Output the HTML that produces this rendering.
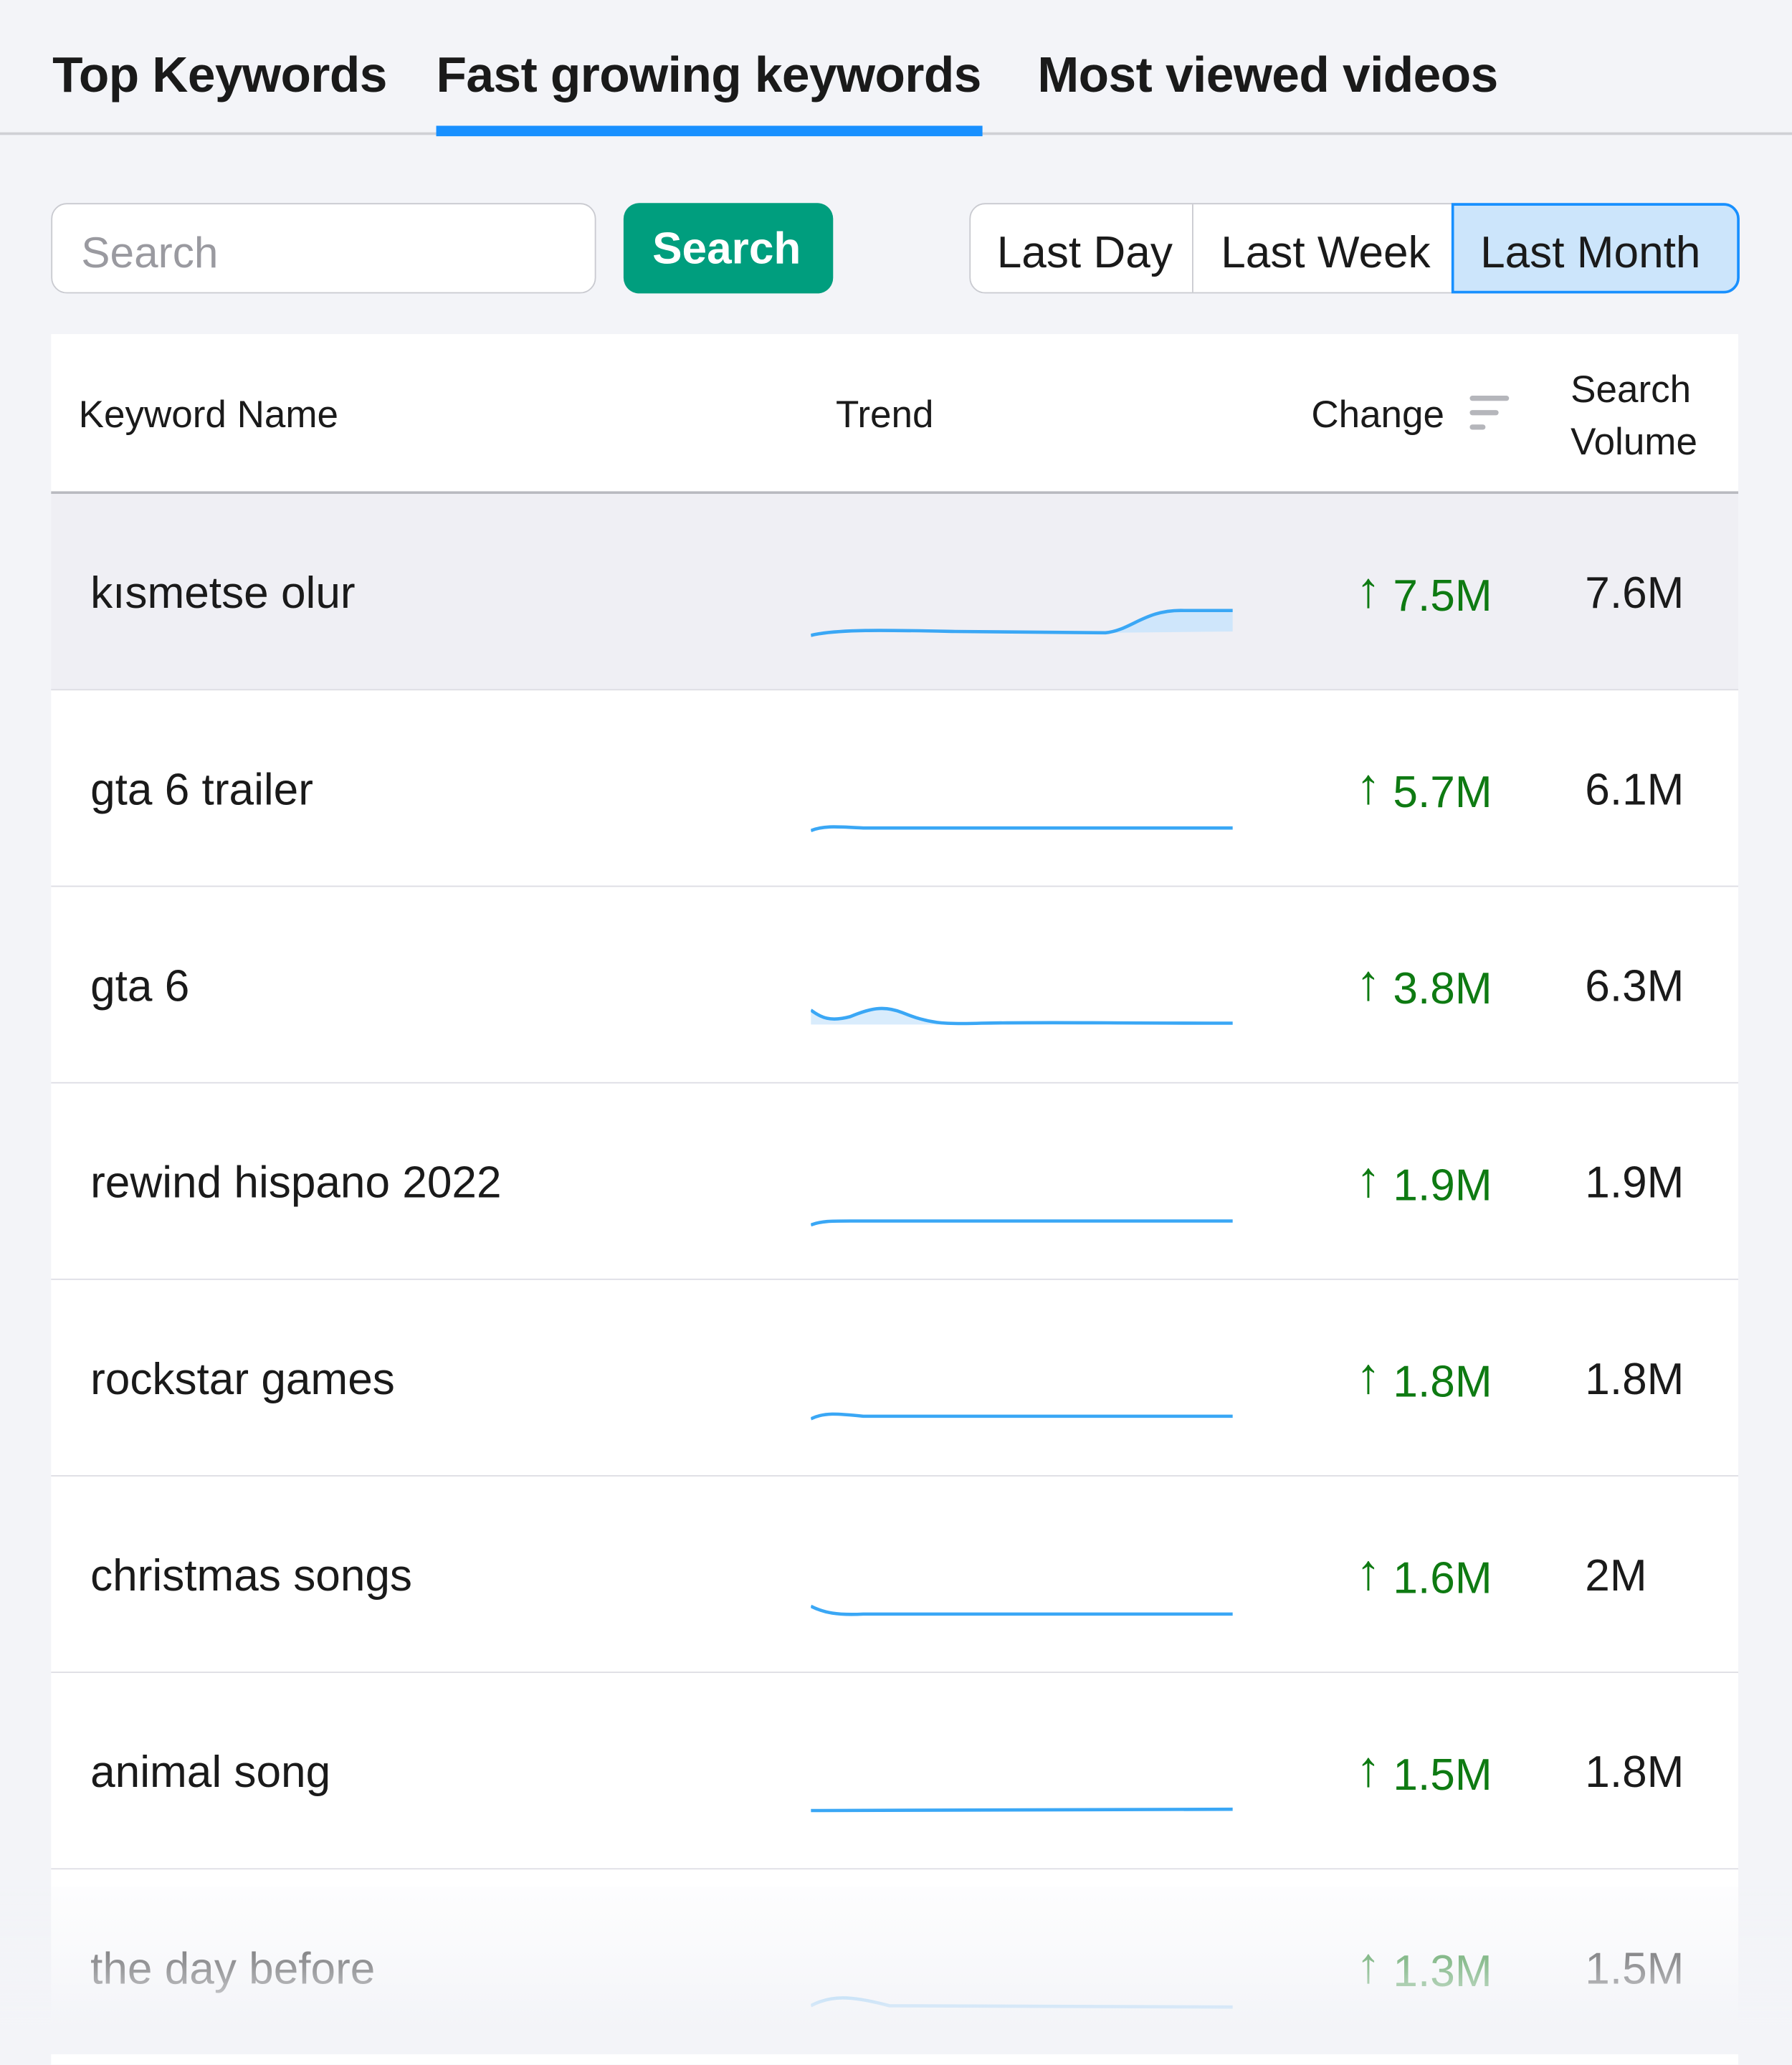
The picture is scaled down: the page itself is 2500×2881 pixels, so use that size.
<!DOCTYPE html>
<html><head><meta charset="utf-8"><style>
html,body{margin:0;padding:0;width:2500px;height:2866px;overflow:hidden;background:#f3f4f8;}
#w{position:absolute;left:0;top:0;width:1368px;height:1568px;transform:scale(1.82749,1.8278);transform-origin:0 0;font-family:"Liberation Sans","DejaVu Sans",sans-serif;color:#1a1a1a;}
.a{position:absolute;white-space:nowrap;}
.tab{font-size:38px;font-weight:bold;top:37px;letter-spacing:-0.3px}
.row{position:absolute;left:39px;width:1288px;height:149px;border-bottom:1px solid #dcdce3;background:#fff;}
.kw{position:absolute;left:30px;top:57px;font-size:34px;}
.ch{position:absolute;left:996px;top:56px;font-size:34px;color:#0e7a12;}
.ch b{font-weight:bold;font-size:38px;position:relative;top:-3px;}
.vol{position:absolute;left:1171px;top:57px;font-size:34px;}
svg{position:absolute;left:580px;top:0;}
</style></head><body><div id="w">
<div class="a tab" style="left:40px">Top Keywords</div>
<div class="a tab" style="left:333px">Fast growing keywords</div>
<div class="a tab" style="left:792px">Most viewed videos</div>
<div class="a" style="left:0;top:101px;width:1368px;height:2px;background:#cfd0d5"></div>
<div class="a" style="left:333px;top:96px;width:417px;height:8px;background:#1890ff"></div>

<div class="a" style="left:39px;top:155px;width:414px;height:67px;border:1px solid #c9cad0;border-radius:12px;background:#fff"></div>
<div class="a" style="left:62px;top:174px;font-size:33px;color:#9a9aa0">Search</div>
<div class="a" style="left:476px;top:155px;width:160px;height:69px;border-radius:12px;background:#009e7e"></div>
<div class="a" style="left:498px;top:171px;font-size:34px;color:#fff;font-weight:bold">Search</div>

<div class="a" style="left:740px;top:155px;width:586px;height:67px;border:1px solid #c9cad0;border-radius:12px;background:#fff"></div>
<div class="a" style="left:910px;top:156px;width:1px;height:67px;background:#c9cad0"></div>
<div class="a" style="left:1108px;top:155px;width:216px;height:65px;border:2px solid #1890ff;border-radius:0 12px 12px 0;background:#cce5fb"></div>
<div class="a" style="left:761px;top:174px;font-size:34px">Last Day</div>
<div class="a" style="left:932px;top:174px;font-size:34px">Last Week</div>
<div class="a" style="left:1130px;top:174px;font-size:34px">Last Month</div>

<div class="a" style="left:39px;top:255px;width:1288px;height:120px;background:#fff;border-bottom:2px solid #b9bac0"></div>
<div class="a" style="left:60px;top:301px;font-size:29px">Keyword Name</div>
<div class="a" style="left:638px;top:301px;font-size:29px">Trend</div>
<div class="a" style="left:1001px;top:301px;font-size:29px">Change</div>
<div class="a" style="left:1122px;top:302px;width:30px;height:4px;background:#b5b6bb;border-radius:2px"></div>
<div class="a" style="left:1122px;top:313px;width:22px;height:4px;background:#b5b6bb;border-radius:2px"></div>
<div class="a" style="left:1122px;top:324px;width:12px;height:4px;background:#b5b6bb;border-radius:2px"></div>
<div class="a" style="left:1199px;top:278px;font-size:29px;line-height:40px;white-space:normal">Search<br>Volume</div>

<div class="row" style="top:377px;background:#efeff4"><div class="kw">kısmetse olur</div>
<svg width="330" height="149"><path d="M225,106 C245,104 255,88 285,89 L322,89 L322,105 Z" fill="#cfe6fb" stroke="none"/><path d="M0,108 C20,103 60,104 110,105 L225,106 C245,104 255,88 285,89 L322,89" fill="none" stroke="#3aa7f5" stroke-width="2.5"/></svg>
<div class="ch"><b>↑</b> 7.5M</div><div class="vol">7.6M</div></div>

<div class="row" style="top:527px"><div class="kw">gta 6 trailer</div>
<svg width="330" height="149"><path d="M0,107 C10,103 20,104 40,105 L322,105" fill="none" stroke="#3aa7f5" stroke-width="2.5"/></svg>
<div class="ch"><b>↑</b> 5.7M</div><div class="vol">6.1M</div></div>

<div class="row" style="top:677px"><div class="kw">gta 6</div>
<svg width="330" height="149"><path d="M0,94 C8,100 15,103 30,99 C45,93 55,90 70,96 C90,104 100,105 130,104 L322,104 L322,105 L0,105 Z" fill="#d9ecfc"/><path d="M0,94 C8,100 15,103 30,99 C45,93 55,90 70,96 C90,104 100,105 130,104 C180,103 220,104 322,104" fill="none" stroke="#3aa7f5" stroke-width="2.5"/></svg>
<div class="ch"><b>↑</b> 3.8M</div><div class="vol">6.3M</div></div>

<div class="row" style="top:827px"><div class="kw">rewind hispano 2022</div>
<svg width="330" height="149"><path d="M0,108 C8,105 15,105 30,105 L322,105" fill="none" stroke="#3aa7f5" stroke-width="2.5"/></svg>
<div class="ch"><b>↑</b> 1.9M</div><div class="vol">1.9M</div></div>

<div class="row" style="top:977px"><div class="kw">rockstar games</div>
<svg width="330" height="149"><path d="M0,106 C10,101 20,102 40,104 L322,104" fill="none" stroke="#3aa7f5" stroke-width="2.5"/></svg>
<div class="ch"><b>↑</b> 1.8M</div><div class="vol">1.8M</div></div>

<div class="row" style="top:1127px"><div class="kw">christmas songs</div>
<svg width="330" height="149"><path d="M0,99 C10,104 20,106 40,105 L322,105" fill="none" stroke="#3aa7f5" stroke-width="2.5"/></svg>
<div class="ch"><b>↑</b> 1.6M</div><div class="vol">2M</div></div>

<div class="row" style="top:1277px"><div class="kw">animal song</div>
<svg width="330" height="149"><path d="M0,105 C30,104 60,105 322,104" fill="none" stroke="#3aa7f5" stroke-width="2.5"/></svg>
<div class="ch"><b>↑</b> 1.5M</div><div class="vol">1.8M</div></div>

<div class="row" style="top:1427px;border-bottom:none"><div class="kw">the day before</div>
<svg width="330" height="149"><path d="M0,104 C15,96 30,96 60,104 L322,105" fill="none" stroke="#3aa7f5" stroke-width="2.5"/></svg>
<div class="ch"><b>↑</b> 1.3M</div><div class="vol">1.5M</div></div>

<div class="a" style="left:0;top:1440px;width:1368px;height:128px;background:linear-gradient(to bottom,rgba(243,244,248,0.15),rgba(243,244,248,0.6) 50%,#f3f4f8 85%)"></div>
</div></body></html>
